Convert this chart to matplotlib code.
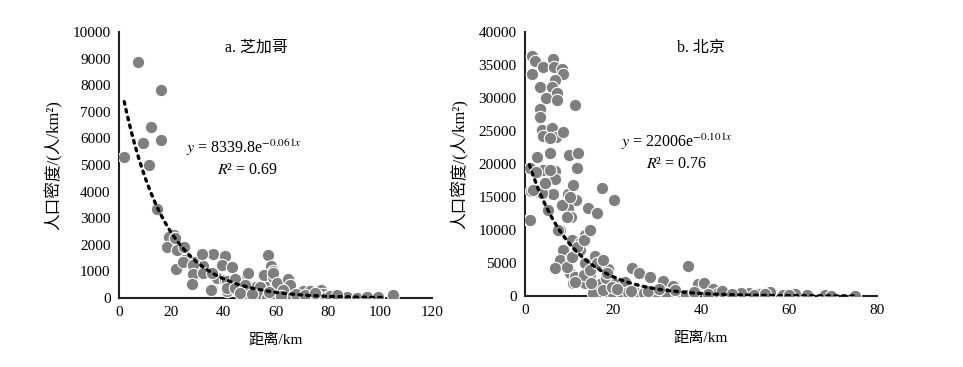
import numpy as np
import matplotlib
matplotlib.use("Agg")
import matplotlib.pyplot as plt

plt.rcParams['font.family'] = ['Liberation Serif', 'Noto Sans CJK SC']
plt.rcParams['mathtext.fontset'] = 'stix'

# ---------------- Data: Chicago ----------------
chi_x = [7.4, 16.1, 1.9, 9.1, 12.1, 16.0, 11.4, 14.7, 18.8, 21.1, 18.8, 22.4, 25.4,
         22.0, 24.9, 28.3, 31.8, 35.9, 40.8, 35.7, 29.3, 32.1, 39.5, 43.3, 28.8, 35.7,
         37.7, 40.8, 41.5, 44.6, 49.0, 49.7, 52.5, 55.3, 57.1, 58.4, 58.9, 56.9, 60.2,
         62.5, 65.0, 19.3, 18.3, 21.5, 22.1, 24.9, 21.9, 24.7, 28.5, 31.7, 28.5, 32.3,
         35.5, 39.4, 43.2, 27.9, 35.3, 41.3, 44.5, 41.3, 44.5, 49.6, 54.0, 55.6, 59.2,
         49.6, 48.3, 59.2, 60.5, 64.9, 65.6, 63.0, 70.4, 73.2, 77.3, 78.3,
         52.8, 54.1, 56.6, 59.8, 63.0, 66.2, 69.4, 73.2, 76.4, 79.6, 84.1, 87.5, 91.1,
         95.0, 99.4, 105.2, 68.0, 71.5, 75.0, 81.0, 83.5, 62.0, 46.5, 51.0, 57.5]
chi_y = [8860, 7820, 5290, 5815, 6415, 5940, 5010, 3335, 2280, 2355, 1900, 1855, 1930,
         1100, 1430, 525, 1640, 1640, 1590, 330, 1340, 1215, 1215, 1165, 875, 930,
         750, 675, 275, 375, 850, 425, 425, 850, 1600, 1200, 1030, 425, 525,
         275, 700, 2280, 1930, 2240, 1800, 1930, 1080, 1365, 1240, 1650, 900, 930,
         950, 1240, 1180, 525, 300, 650, 700, 365, 365, 930, 425, 865, 800,
         110, 490, 930, 550, 700, 490, 300, 275, 275, 300, 150,
         50, 20, 0, 30, 10, 40, 20, 0, 60, 30, 20, 50, 10,
         30, 20, 100, 150, 120, 180, 90, 110, 60, 200, 160, 240]

# ---------------- Data: Beijing ----------------
bj_x = [1.7, 2.3, 1.7, 4.0, 6.4, 6.7, 8.4, 8.7, 6.8, 3.4, 6.1, 7.2, 4.8, 7.3, 11.3,
        3.3, 3.3, 3.8, 6.1, 4.0, 7.0, 8.7, 5.7, 5.7, 10.1, 12.0, 11.9, 2.8, 4.0, 6.8,
        6.8, 1.1, 2.5, 1.4, 3.3, 6.4, 9.8, 10.8, 11.7, 17.4, 20.3, 1.0, 5.3, 8.3, 9.8,
        10.4, 14.4, 16.4, 14.6, 13.6, 8.0, 8.7, 8.0, 6.8, 10.5, 10.6, 12.5, 12.5, 13.6,
        15.8, 17.8, 18.9, 10.2, 11.0, 13.6, 14.8, 15.9, 15.5, 17.0, 18.4, 19.7, 20.5,
        22.0, 22.7, 24.3, 26.0, 25.2, 28.3, 31.4, 33.7, 37.1, 39.4, 40.7, 42.8, 37.9,
        43.9, 47.3, 50.8, 53.0, 55.7, 58.7, 61.4, 64.2, 68.2, 69.5, 75.0,
        11.4, 13.3, 14.8, 16.3, 17.8, 18.6, 14.9, 11.4, 17.8, 19.7, 9.5, 10.6,
        11.8, 13.3, 14.8, 3.8, 8.3, 10.2, 9.5, 16.3, 5.3, 7.6, 1.1, 5.7, 4.5, 1.9,
        23.5, 27.0, 29.5, 32.0, 35.0, 36.5, 41.5, 45.5, 49.0, 52.0, 21.0, 24.0, 28.0,
        30.5, 34.0, 38.5, 44.8, 47.0, 54.5, 60.0]
bj_y = [36360, 35650, 33640, 34650, 35860, 34750, 34340, 33640, 32730, 31620, 31620,
        30710, 29950, 29700, 28940, 28280, 27170, 25150, 25400, 24240, 24140, 24900,
        23900, 21620, 21360, 21620, 19350, 21010, 19090, 18990, 17680, 19350, 18840,
        15960, 15660, 15450, 15450, 16820, 14550, 16320, 14550, 11520, 13130, 13940,
        13280, 12020, 13280, 12530, 9740, 9240, 10000, 6970, 5450, 4190, 5710, 8480,
        7980, 6970, 4950, 6060, 5350, 4040, 3440, 1920, 1920, 3180, 1410, 410, 1820,
        2680, 650, 1820, 500, 2170, 4190, 3440, 410, 2830, 2320, 1520, 4550, 1820,
        1920, 1020, 410, 400, 150, 500, 300, 600, 200, 350, 150, 100, 50, 0,
        2930, 3180, 3940, 4950, 5450, 3440, 1920, 2170, 910, 1410, 4440, 5960,
        7470, 8480, 10000, 15560, 13790, 15050, 12020, 12530, 13030, 10000, 11520,
        19090, 17080, 16060, 600, 400, 300, 500, 350, 200, 300, 250, 450, 200,
        1000, 700, 800, 1100, 900, 600, 700, 300, 250, 150]

# Trendline coefficients (as printed on chart)
chi_a, chi_b = 8339.8, -0.061
bj_a, bj_b = 22006, -0.101

W, H = 963, 367
fig = plt.figure(figsize=(W / 100, H / 100), dpi=100)

ax1 = fig.add_axes([119 / W, 1 - 298 / H, (432 - 119) / W, (298 - 32) / H])
ax2 = fig.add_axes([525 / W, 1 - 296 / H, (877 - 525) / W, (296 - 32) / H])

pt_color = '#7f7f7f'
for ax, x, y, a, b, xlim, ylim, ystep, xstep, tr in [
        (ax1, chi_x, chi_y, chi_a, chi_b, 120, 10000, 1000, 20, (2, 101)),
        (ax2, bj_x, bj_y, bj_a, bj_b, 80, 40000, 5000, 20, (1, 75))]:
    ax.scatter(x, y, s=80, c=pt_color, edgecolors='white', linewidths=0.8, zorder=3)
    tx = np.linspace(tr[0], tr[1], 200)
    ax.plot(tx, a * np.exp(b * tx), color='black', lw=2.4,
            linestyle=(0, (0.8, 1.6)), dash_capstyle='round', zorder=4)
    ax.set_xlim(0, xlim)
    ax.set_ylim(0, ylim)
    ax.set_xticks(np.arange(0, xlim + 1, xstep))
    ax.set_yticks(np.arange(0, ylim + 1, ystep))
    for s in ['top', 'right']:
        ax.spines[s].set_visible(False)
    for s in ['left', 'bottom']:
        ax.spines[s].set_linewidth(1.5)
        ax.spines[s].set_color('#222222')
    ax.tick_params(length=0, labelsize=11, pad=6)
    ax.set_xlabel('距离/km', fontsize=11, labelpad=10)
    ax.set_ylabel('人口密度/(人/km²)', fontsize=12, labelpad=7)

ax1.text(0.44, 0.97, 'a. 芝加哥', transform=ax1.transAxes, ha='center', va='top', fontsize=11.5)
ax2.text(0.50, 0.97, 'b. 北京', transform=ax2.transAxes, ha='center', va='top', fontsize=11.5)

ax1.text(0.40, 0.565, r'$y$ = 8339.8e$^{-0.061x}$', transform=ax1.transAxes,
         ha='center', va='center', fontsize=11.5)
ax1.text(0.41, 0.48, r'$R$² = 0.69', transform=ax1.transAxes,
         ha='center', va='center', fontsize=11.5)
ax2.text(0.43, 0.585, r'$y$ = 22006e$^{-0.101x}$', transform=ax2.transAxes,
         ha='center', va='center', fontsize=11.5)
ax2.text(0.43, 0.50, r'$R$² = 0.76', transform=ax2.transAxes,
         ha='center', va='center', fontsize=11.5)

fig.savefig('out.png', dpi=100)
